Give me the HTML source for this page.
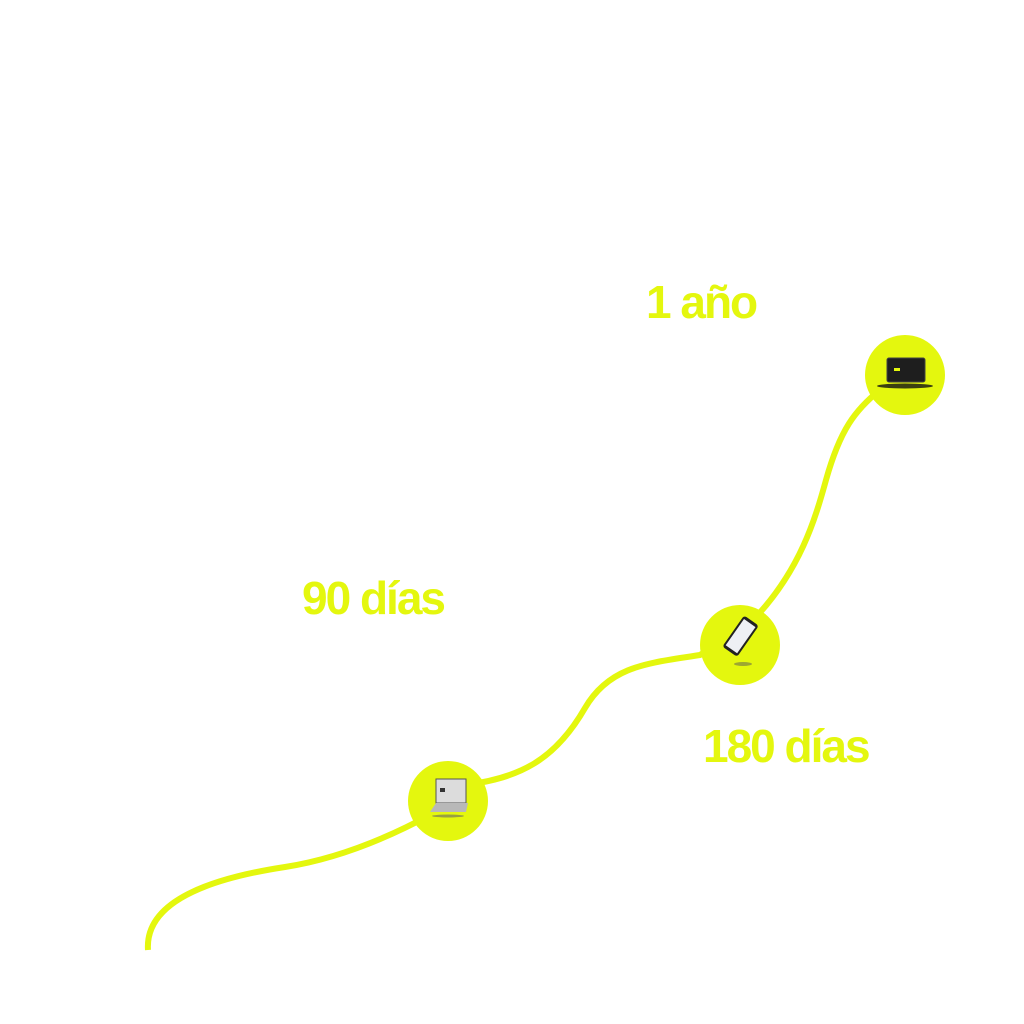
<!DOCTYPE html>
<html><head><style>
html,body{margin:0;padding:0;background:#fff;width:1024px;height:1024px;overflow:hidden}
svg{display:block}
text{font-family:"Liberation Sans",sans-serif;font-weight:bold;fill:#e4f70e;letter-spacing:-2px}
</style></head><body>
<svg width="1024" height="1024" viewBox="0 0 1024 1024">
<path d="M148 950 C145 905 200 880 285 867 C330 860 380 842 430 815 L465 785 C520 778 555 760 585 708 C610 665 650 663 700 655 L755 618 C800 570 815 520 826 480 C840 430 855 410 880 390" fill="none" stroke="#e4f70e" stroke-width="6" stroke-linecap="butt"/>
<circle cx="448" cy="801" r="40" fill="#e4f70e"/>
<circle cx="740" cy="645" r="40" fill="#e4f70e"/>
<circle cx="905" cy="375" r="40" fill="#e4f70e"/>
<g>
<rect x="436" y="779" width="30" height="24" fill="#dcdcdc" stroke="#555" stroke-width="1"/>
<rect x="440" y="788" width="5" height="4" fill="#333"/>
<polygon points="430,812 436,803 468,803 466,812" fill="#b8b8b8"/>
<ellipse cx="448" cy="816" rx="16" ry="1.5" fill="#666" opacity=".6"/>
</g>
<g transform="rotate(35 740 637)">
<rect x="731" y="617" width="18" height="38" rx="3" fill="#222"/>
<rect x="733" y="620" width="14" height="32" fill="#eef0f4"/>
</g>
<ellipse cx="743" cy="664" rx="9" ry="2" fill="#555" opacity=".5"/>
<rect x="887" y="358" width="38" height="24" rx="2" fill="#1e1e1e" stroke="#444" stroke-width="1"/>
<rect x="894" y="368" width="6" height="3" fill="#e4f70e"/>
<ellipse cx="905" cy="386" rx="28" ry="2.5" fill="#111" opacity=".8"/>
<text x="646" y="318" font-size="46">1 año</text>
<text x="302" y="614" font-size="46">90 días</text>
<text x="703" y="762" font-size="46">180 días</text>
</svg>
</body></html>
